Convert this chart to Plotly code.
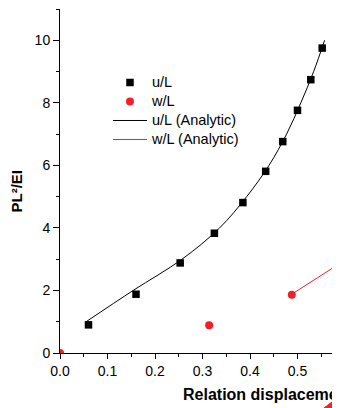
import plotly.graph_objects as go

# ---- data ----
u_x = [0.060, 0.160, 0.253, 0.325, 0.385, 0.433, 0.469, 0.500, 0.528, 0.552]
u_y = [0.90, 1.88, 2.88, 3.83, 4.81, 5.81, 6.76, 7.76, 8.74, 9.75]

w_x = [0.0, 0.314, 0.488]
w_y = [0.0, 0.89, 1.86]

u_an_x = [0.055, 0.154, 0.257, 0.336, 0.393, 0.440, 0.477, 0.507, 0.534, 0.557]
u_an_y = [1, 2, 3, 4, 5, 6, 7, 8, 9, 10]

w_an_x = [0.488, 0.600]
w_an_y = [1.88, 2.97]

x_tick_vals = [0.0, 0.1, 0.2, 0.3, 0.4, 0.5]
x_tick_text = ["0.0", "0.1", "0.2", "0.3", "0.4", "0.5"]
y_tick_vals = [0, 2, 4, 6, 8, 10]
y_tick_text = ["0", "2", "4", "6", "8", "10"]

FONT = "Arial, 'Liberation Sans', sans-serif"
OFF = 8  # page body margin
W, H = 340 - OFF, 408 - OFF
ML, MT, MB = 60 - OFF, 9 - OFF, 55
PW, PH = W - ML, H - MT - MB


def px_x(p):  # reference-pixel x -> paper
    return round((p - OFF - ML) / PW, 4)


def px_y(p):  # reference-pixel y -> paper
    return round((H - MB - (p - OFF)) / PH, 4)


RED = "#f0202a"
LEG = '<span style="font-size:14.5px">%s</span>'

fig = go.Figure()
fig.add_trace(go.Scatter(x=u_x, y=u_y, mode="markers", name=LEG % "u/L",
                         marker=dict(symbol="square", size=7.5, color="black")))
fig.add_trace(go.Scatter(x=w_x, y=w_y, mode="markers", name=LEG % "w/L",
                         marker=dict(symbol="circle", size=8, color=RED)))
fig.add_trace(go.Scatter(x=u_an_x, y=u_an_y, mode="lines", name=LEG % "u/L (Analytic)",
                         line=dict(color="black", width=1, shape="spline")))
fig.add_trace(go.Scatter(x=w_an_x, y=w_an_y, mode="lines", name=LEG % "w/L (Analytic)",
                         line=dict(color=RED, width=1)))

annotations = [
    dict(text="0.6", xref="paper", yref="paper", x=px_x(345), y=px_y(369),
         xanchor="center", yanchor="middle", showarrow=False,
         font=dict(family=FONT, size=14, color="black")),
    dict(text="<b>Relation displacement</b>", xref="paper", yref="paper",
         x=px_x(181), y=px_y(394), xanchor="left", yanchor="middle", showarrow=False,
         font=dict(family=FONT, size=16, color="black")),
    dict(text="<b>PL²/EI</b>", xref="paper", yref="paper",
         x=px_x(16.5), y=px_y(191), xanchor="center", yanchor="middle", showarrow=False,
         textangle=-90, font=dict(family=FONT, size=15, color="black")),
]

tri = "M {} {} L {} {} L {} {} L {} {} Z".format(
    px_x(322), px_y(409.5), px_x(356), px_y(384),
    px_x(356), px_y(420), px_x(322), px_y(420))

fig.update_layout(
    width=W, height=H,
    margin=dict(l=ML, r=0, t=MT, b=MB, pad=0),
    paper_bgcolor="white", plot_bgcolor="white",
    font=dict(family=FONT, size=14, color="black"),
    showlegend=True,
    legend=dict(x=px_x(108), y=px_y(68), xanchor="left", yanchor="top",
                bgcolor="rgba(0,0,0,0)", borderwidth=0, itemwidth=34,
                font=dict(family=FONT, size=11.2, color="black")),
    annotations=annotations,
    shapes=[dict(type="path", xref="paper", yref="paper", layer="above",
                 path=tri, fillcolor=RED, line=dict(color=RED, width=1))],
)

fig.update_xaxes(range=[0, PW / 475.0], showgrid=False, zeroline=False,
                 showline=True, linecolor="black", linewidth=1,
                 ticks="outside", ticklen=5, tickwidth=1, tickcolor="black",
                 tickvals=x_tick_vals, ticktext=x_tick_text,
                 tickfont=dict(family=FONT, size=14),
                 minor=dict(ticks="outside", ticklen=3, dtick=0.05, tick0=0,
                            tickcolor="black", showgrid=False))
fig.update_yaxes(range=[0, 11], showgrid=False, zeroline=False,
                 showline=True, linecolor="black", linewidth=1,
                 ticks="outside", ticklen=6, tickwidth=1, tickcolor="black",
                 tickvals=y_tick_vals, ticktext=y_tick_text,
                 tickfont=dict(family=FONT, size=14),
                 minor=dict(ticks="outside", ticklen=3, dtick=1, tick0=0,
                            tickcolor="black", showgrid=False))

fig.write_html("out.html")
